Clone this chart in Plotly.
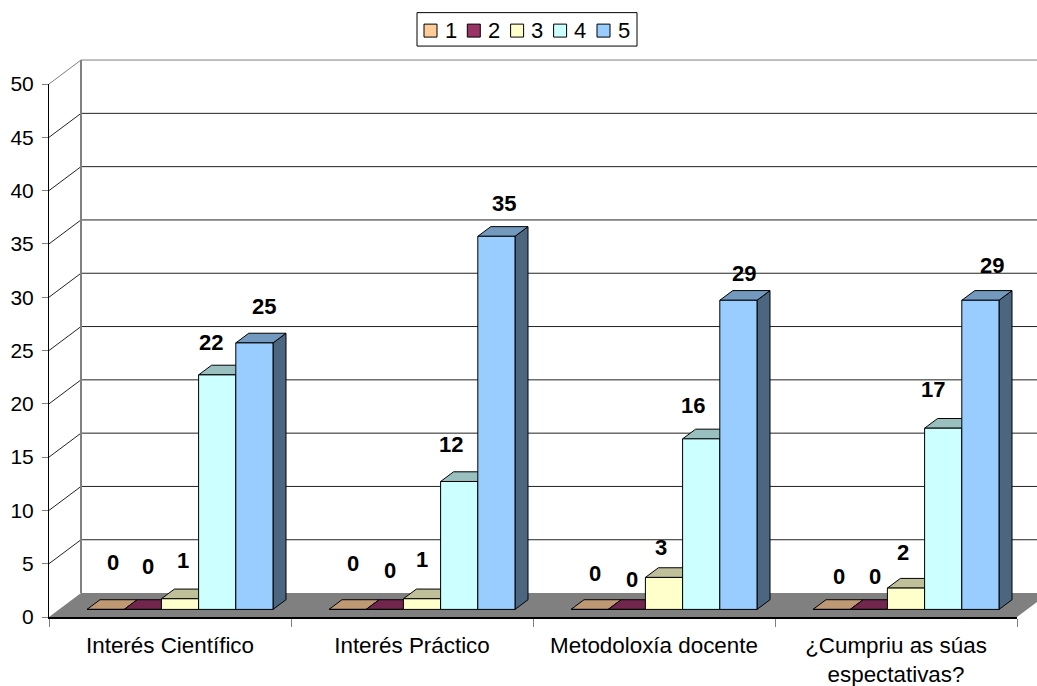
import plotly.graph_objects as go

# ---- data ----
categories = ["Interés Científico", "Interés Práctico", "Metodoloxía docente", "¿Cumpriu as súas<br>espectativas?"]
series_names = ["1", "2", "3", "4", "5"]
s1 = [0, 0, 0, 0]
s2 = [0, 0, 0, 0]
s3 = [1, 1, 3, 2]
s4 = [22, 12, 16, 17]
s5 = [25, 35, 29, 29]
series_values = [s1, s2, s3, s4, s5]
y_ticks = list(range(0, 55, 5))

# ---- style ----
W, H = 1037, 686
L, R, T, B = 49, 1017, 83.5, 617.5    # front plane of the 3-D box in page pixels
PX_CAT = (R - L) / 4
PX_VAL = (B - T) / 50
WALL_DX, WALL_DY = 32, 24             # depth of box
BAR_PX = 37.2
BAR_START_PX = 38                     # first bar's left edge from category start
BASE_DY = 7.6                         # front base of bars above the axis
BAR_DX, BAR_DY = 13, 9.7              # bar depth
face = ["#FFCC99", "#993366", "#FFFFCC", "#CCFFFF", "#99CCFF"]
top = ["#BF9973", "#73264D", "#BFBF99", "#99BFBF", "#7399BF"]
side = ["#80664D", "#4D1A33", "#808066", "#668080", "#4D6680"]
FONT = "Liberation Sans, Arial, sans-serif"
FS_Y = 21
FS_X = 22.4
FS_VAL = 22
FS_LEG = 22

# pixel offsets of value labels from the top centre of each bar (series x category)
label_dx = [[7, 5, 5, 7], [5, 5, 5, 6], [3, 0, -3, -3], [-6, -8, -8, -10], [10, 8, 6, 12]]
label_dy = [[47, 46, 36, 33], [43, 39, 30, 33], [38, 39, 30, 36], [32, 37, 33, 39], [36, 33, 27, 35]]


def px(x):
    return (x - L) / (R - L)


def py(y):
    return (B - y) / (B - T)


def line_shape(x0, y0, x1, y1, color="#000000", width=1):
    return dict(type="line", xref="paper", yref="paper", x0=px(x0), y0=py(y0), x1=px(x1), y1=py(y1),
                line=dict(color=color, width=width), layer="below")


def poly(points, fill, lw=0, color="#000000"):
    path = "M " + " L ".join(f"{px(a):.5f},{py(b):.5f}" for a, b in points) + " Z"
    return dict(type="path", xref="paper", yref="paper", path=path, fillcolor=fill,
                line=dict(color=color, width=lw), layer="below")


shapes = []

# floor
shapes.append(poly([(L, B), (L + WALL_DX, B - WALL_DY), (R + WALL_DX, B - WALL_DY), (R, B)], "#808080"))
# wall gridlines & diagonal connectors
for v in y_ticks:
    yf = B - v * PX_VAL
    yb = yf - WALL_DY
    col = "#808080" if v == 50 else "#222222"
    if v > 0:
        shapes.append(line_shape(L + WALL_DX, yb, R + WALL_DX, yb, col))
        shapes.append(line_shape(L, yf, L + WALL_DX, yb, col))
shapes.append(line_shape(L + WALL_DX, B - 50 * PX_VAL - WALL_DY, L + WALL_DX, B - WALL_DY, "#808080", 2))

# bar tops and sides (drawn through the axes' data units)
dx_u = BAR_DX / PX_CAT
dy_u = BAR_DY / PX_VAL
base_u = BASE_DY / PX_VAL
bar_w = BAR_PX / PX_CAT
start = BAR_START_PX / PX_CAT
for s, vals in enumerate(series_values):
    for c, v in enumerate(vals):
        x0 = c + start + s * bar_w
        x1 = x0 + bar_w
        y0 = base_u
        y1 = base_u + v
        line = dict(color="#000000", width=1)
        top_path = (f"M {x0:.5f},{y1:.4f} L {x0 + dx_u:.5f},{y1 + dy_u:.4f} "
                    f"L {x1 + dx_u:.5f},{y1 + dy_u:.4f} L {x1:.5f},{y1:.4f} Z")
        side_path = (f"M {x1:.5f},{y0:.4f} L {x1 + dx_u:.5f},{y0 + dy_u:.4f} "
                     f"L {x1 + dx_u:.5f},{y1 + dy_u:.4f} L {x1:.5f},{y1:.4f} Z")
        if v > 0:
            shapes.append(dict(type="path", xref="x", yref="y", path=side_path, fillcolor=side[s],
                               line=line, layer="below"))
        shapes.append(dict(type="path", xref="x", yref="y", path=top_path, fillcolor=top[s],
                           line=line, layer="below"))

fig = go.Figure()
for s, (name, vals) in enumerate(zip(series_names, series_values)):
    fig.add_trace(go.Bar(
        name=name,
        x=[c + start + (s + 0.5) * bar_w for c in range(4)],
        y=vals,
        base=base_u,
        width=bar_w,
        marker=dict(color=face[s], line=dict(color="#000000", width=1)),
        showlegend=False,
        hoverinfo="y+name",
    ))

annotations = []
for s, vals in enumerate(series_values):
    for c, v in enumerate(vals):
        annotations.append(dict(
            x=c + start + (s + 0.5) * bar_w, y=base_u + v, xref="x", yref="y",
            text=f"<b>{v}</b>", showarrow=False, xanchor="center", yanchor="middle",
            xshift=label_dx[s][c], yshift=label_dy[s][c],
            font=dict(family=FONT, size=FS_VAL, color="#000000"),
        ))

# legend box
shapes.append(dict(type="rect", xref="paper", yref="paper", x0=px(417), x1=px(637), y0=py(45.5), y1=py(12),
                   fillcolor="#FFFFFF", line=dict(color="#000000", width=1), layer="above"))
leg_x = [424, 467.3, 510.6, 553.6, 597]
for s, name in enumerate(series_names):
    shapes.append(dict(type="rect", xref="paper", yref="paper", x0=px(leg_x[s]), x1=px(leg_x[s] + 13),
                       y0=py(36.5), y1=py(23.5), fillcolor=face[s], line=dict(color="#000000", width=1),
                       layer="above"))
    annotations.append(dict(x=px(leg_x[s] + 18.5), y=py(30), xref="paper", yref="paper", text=name,
                            showarrow=False, xanchor="left", yanchor="middle",
                            font=dict(family=FONT, size=FS_LEG, color="#000000")))

fig.update_layout(
    width=W, height=H,
    margin=dict(l=L, r=W - R, t=T, b=H - B, pad=0, autoexpand=False),
    paper_bgcolor="#FFFFFF", plot_bgcolor="rgba(0,0,0,0)",
    barmode="overlay", showlegend=False,
    font=dict(family=FONT, size=FS_X, color="#000000"),
    shapes=shapes, annotations=annotations,
    xaxis=dict(
        range=[0, 4], tickmode="array", tickvals=[i + 0.5 for i in range(4)], ticktext=categories,
        ticks="", showgrid=False, zeroline=False, showline=True, linecolor="#000000", linewidth=2,
        ticklabelstandoff=7, tickangle=0,
        minor=dict(tickmode="array", tickvals=list(range(5)), ticks="outside", ticklen=8, tickcolor="#808080",
                   tickwidth=1, showgrid=False),
        tickfont=dict(family=FONT, size=FS_X, color="#000000"),
    ),
    yaxis=dict(
        range=[0, 50], tickmode="array", tickvals=y_ticks, ticks="outside", ticklen=6, tickcolor="#808080",
        tickwidth=1, showgrid=False, zeroline=False, showline=True, linecolor="#000000", linewidth=1,
        tickfont=dict(family=FONT, size=FS_Y, color="#000000"), ticklabelstandoff=4,
    ),
)

fig.write_html("out.html", config=dict(displayModeBar=False),
               post_script="document.body.style.margin='0';document.body.style.overflow='hidden';")
